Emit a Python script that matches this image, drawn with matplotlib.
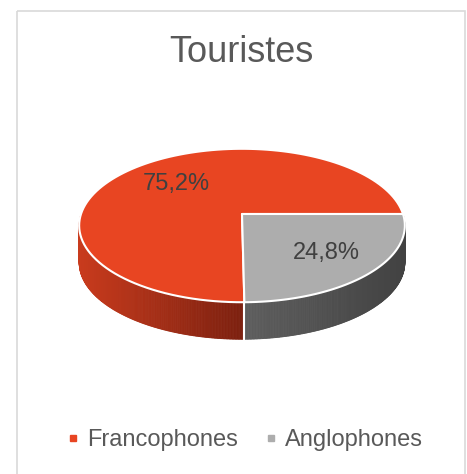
"""3D pie chart of tourists by language."""
import numpy as np
import matplotlib.pyplot as plt
from matplotlib.colors import to_rgb
from matplotlib.lines import Line2D
from matplotlib.patches import Polygon, Rectangle

plt.rcParams["font.family"] = ["Liberation Sans", "DejaVu Sans"]

# Data
title = "Touristes"
categories = ["Francophones", "Anglophones"]
shares = [75.2, 24.8]
value_labels = ["75,2%", "24,8%"]

# Colours: top face, side light end, side dark end
top_colors = ["#E84522", "#ADADAD"]
side_light = ["#C93B1D", "#5E5E5E"]
side_dark = ["#7C200F", "#424242"]

# Geometry (pixels)
W, H = 467, 474
CX, CY = 242, 214
RX, RY = 161, 75
PERSP = 0.15
DEPTH = 37
LABEL_R = 0.65


def project(u, v):
    """Project a point of the unit disc onto the tilted, perspective pie."""
    w = 1 + PERSP * v
    return CX + RX * u / w, CY - RY * v / w


def arc(t0, t1, n=120):
    t = np.radians(np.linspace(t0, t1, n))
    return project(np.cos(t), np.sin(t))


fig = plt.figure(figsize=(W / 100, H / 100), dpi=100)
ax = fig.add_axes([0, 0, 1, 1])
ax.set_xlim(0, W)
ax.set_ylim(H, 0)
ax.axis("off")

# Chart border
ax.add_patch(Rectangle((16.5, 10.5), 448.5, 480, fill=False, edgecolor="#D9D9D9", lw=1.2))

# Wedge angles (counter-clockwise from 3 o'clock)
bounds = np.concatenate([[0], np.cumsum(shares)]) * 360 / sum(shares)

# Side walls (front half only), drawn as thin strips for a horizontal gradient
for i in range(len(shares)):
    t0, t1 = max(bounds[i], 180), min(bounds[i + 1], 360)
    if t1 <= t0:
        continue
    xs, ys = arc(t0, t1, 200)
    xa, xb = xs.min(), xs.max()
    c0, c1 = np.array(to_rgb(side_light[i])), np.array(to_rgb(side_dark[i]))
    for j in range(len(xs) - 1):
        f = ((xs[j] + xs[j + 1]) / 2 - xa) / (xb - xa)
        col = c0 + (c1 - c0) * f
        pts = [(xs[j], ys[j]), (xs[j + 1], ys[j + 1]),
               (xs[j + 1], ys[j + 1] + DEPTH), (xs[j], ys[j] + DEPTH)]
        ax.add_patch(Polygon(pts, closed=True, facecolor=col, edgecolor=col, lw=0.6))

# White divider on the side where the wedges meet
for b in bounds[1:-1]:
    if 180 < b < 360:
        bx, by = project(np.cos(np.radians(b)), np.sin(np.radians(b)))
        ax.plot([bx, bx], [by, by + DEPTH], color="white", lw=1.5)

# Top faces
for i in range(len(shares)):
    xs, ys = arc(bounds[i], bounds[i + 1])
    pts = [(CX, CY)] + list(zip(xs, ys))
    ax.add_patch(Polygon(pts, closed=True, facecolor=top_colors[i],
                         edgecolor="white", lw=1.5, joinstyle="round"))

# Value labels
for i, lab in enumerate(value_labels):
    mid = np.radians((bounds[i] + bounds[i + 1]) / 2)
    lx, ly = project(LABEL_R * np.cos(mid), LABEL_R * np.sin(mid))
    ax.text(lx + 4, ly + 2, lab, fontsize=17, color="#404040", ha="center", va="center")

# Title
ax.text(241, 52, title, fontsize=26, color="#595959", ha="center", va="center")

# Legend
handles = [Line2D([], [], marker="s", linestyle="none", markersize=5,
                  color=c, label=lab) for c, lab in zip(top_colors, categories)]
leg = fig.legend(handles=handles, loc="center", bbox_to_anchor=(0.524, 1 - 440 / H),
                 ncol=2, frameon=False, fontsize=17, handlelength=0.6,
                 handletextpad=0.3, columnspacing=1.1)
for t in leg.get_texts():
    t.set_color("#595959")

fig.savefig("out.png", dpi=100)
plt.close(fig)
